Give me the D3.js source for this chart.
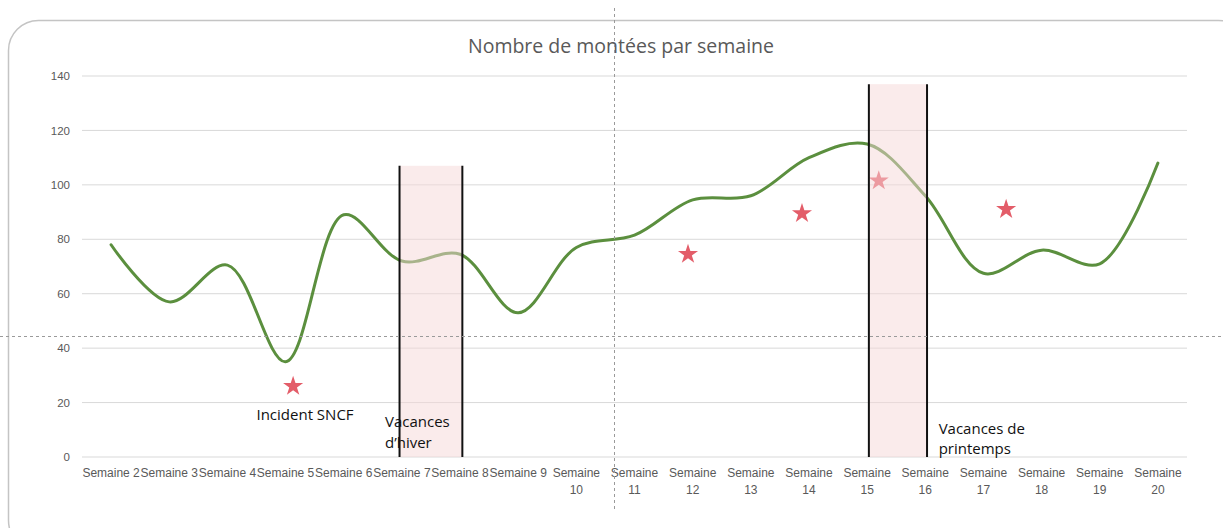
<!DOCTYPE html>
<html>
<head>
<meta charset="utf-8">
<script src="https://cdn.jsdelivr.net/npm/d3@7"></script>
<style>
  html, body { margin: 0; padding: 0; background: #fff; }
  svg { display: block; }
</style>
</head>
<body>
<svg id="chart" width="1223" height="528"></svg>
<script>
// ---- DATA ----
const categories = ["Semaine 2","Semaine 3","Semaine 4","Semaine 5","Semaine 6","Semaine 7","Semaine 8","Semaine 9","Semaine 10",
  "Semaine 11","Semaine 12","Semaine 13","Semaine 14","Semaine 15","Semaine 16","Semaine 17","Semaine 18","Semaine 19","Semaine 20"];
const montees = [78, 57, 70.5, 35, 89, 72, 74.5, 53, 77, 81.5, 94.5, 96, 110, 115, 96, 67.5, 76, 71, 108];
const yTicks = [0, 20, 40, 60, 80, 100, 120, 140];
// stars: position expressed in week number (fractional), value
const starWeeks = [5.13, 11.92, 13.88, 15.2, 17.39];
const starValues = [26, 74.5, 89.5, 101.5, 91];
// holiday bands: start week, end week, top value
const bandStart = [6.96, 15.03];
const bandEnd = [8.04, 16.03];
const bandTop = [107, 137];
const annotations = [
  { lines: ["Incident SNCF"], week: 4.5, value: 13.5 },
  { lines: ["Vacances", "d\u2019hiver"], week: 6.71, value: 11 },
  { lines: ["Vacances de", "printemps"], week: 16.23, value: 8.5 }
];
const title = "Nombre de montées par semaine";

// ---- CHART ----
const svg = d3.select("#chart");
const W = 1223, H = 528;

const x = d3.scaleBand().domain(categories).range([82, 1187]).padding(0);
const y = d3.scaleLinear().domain([0, 140]).range([457, 76]);
const xc = c => x(c) + x.bandwidth() / 2;
const xw = d3.scaleLinear().domain([2, 20]).range([xc(categories[0]), xc(categories[categories.length - 1])]);

// frame
svg.append("rect")
  .attr("x", 8.5).attr("y", 20.5).attr("width", 1240).attr("height", 530)
  .attr("rx", 30).attr("ry", 30)
  .attr("fill", "none").attr("stroke", "#c4c4c4").attr("stroke-width", 1.5);

// title
svg.append("text")
  .attr("x", 621).attr("y", 53)
  .attr("text-anchor", "middle")
  .attr("font-family", "'Open Sans', Lato, sans-serif")
  .attr("font-size", 19.5)
  .attr("fill", "#595959")
  .text(title);

// gridlines
svg.append("g").selectAll("line").data(yTicks).join("line")
  .attr("x1", 82).attr("x2", 1187)
  .attr("y1", d => y(d)).attr("y2", d => y(d))
  .attr("stroke", "#d9d9d9").attr("stroke-width", 1);

// y axis labels
const yAxis = d3.axisLeft(y).tickValues(yTicks).tickSize(0).tickPadding(0);
const gy = svg.append("g").attr("transform", "translate(70,0)").call(yAxis);
gy.select(".domain").remove();
gy.selectAll("text")
  .attr("font-family", "'Liberation Sans', Arial, sans-serif")
  .attr("font-size", 11.5).attr("fill", "#595959");

// x axis labels
const xAxis = d3.axisBottom(x).tickSize(0).tickPadding(0);
const gx = svg.append("g").attr("transform", "translate(0,465)").call(xAxis);
gx.select(".domain").remove();
gx.selectAll("text").each(function(d, i) {
  const t = d3.select(this);
  t.text(null)
    .attr("font-family", "'Liberation Sans', Arial, sans-serif")
    .attr("font-size", 12).attr("fill", "#595959").attr("dy", null).attr("y", 0);
  if (i < 8) {
    t.append("tspan").attr("x", 0).attr("y", 12).text(d);
  } else {
    const parts = d.split(" ");
    t.append("tspan").attr("x", 0).attr("y", 12).text(parts[0]);
    t.append("tspan").attr("x", 0).attr("y", 29).text(parts[1]);
  }
});

// line
const line = d3.line()
  .x((d, i) => xc(categories[i]))
  .y(d => y(d))
  .curve(d3.curveCatmullRom.alpha(0.5));
svg.append("path")
  .datum(montees)
  .attr("d", line)
  .attr("fill", "none")
  .attr("stroke", "#5b8f3e")
  .attr("stroke-width", 3)
  .attr("stroke-linecap", "round");

// stars
svg.append("g").selectAll("path").data(starWeeks).join("path")
  .attr("transform", (d, i) => `translate(${xw(d)},${y(starValues[i])})`)
  .attr("d", d3.symbol().type(d3.symbolStar).size(125))
  .attr("fill", "#e35d69");

// holiday bands (drawn over the line, semi transparent)
const bands = svg.append("g");
bandStart.forEach((s, i) => {
  const x0 = xw(s), x1 = xw(bandEnd[i]), yt = y(bandTop[i]);
  bands.append("rect")
    .attr("x", x0).attr("y", yt).attr("width", x1 - x0).attr("height", y(0) - yt)
    .attr("fill", "rgb(246,216,216)").attr("fill-opacity", 0.5);
  [x0, x1].forEach(xx => {
    bands.append("line")
      .attr("x1", xx).attr("x2", xx).attr("y1", yt).attr("y2", y(0))
      .attr("stroke", "#111").attr("stroke-width", 2);
  });
});

// annotations (one text element per line)
annotations.forEach(a => {
  a.lines.forEach((ln, k) => {
    svg.append("text")
      .attr("font-family", "'Open Sans', Lato, sans-serif")
      .attr("font-size", 15).attr("fill", "#111")
      .attr("x", xw(a.week)).attr("y", y(a.value) + k * 20.5)
      .text(ln);
  });
});

// dashed guide lines
svg.append("line")
  .attr("x1", 614.5).attr("x2", 614.5).attr("y1", 8).attr("y2", 512)
  .attr("stroke", "#9a9a9a").attr("stroke-width", 1).attr("stroke-dasharray", "3,3");
svg.append("line")
  .attr("x1", 0).attr("x2", W).attr("y1", 336.5).attr("y2", 336.5)
  .attr("stroke", "#9a9a9a").attr("stroke-width", 1).attr("stroke-dasharray", "3,3");
</script>
</body>
</html>
